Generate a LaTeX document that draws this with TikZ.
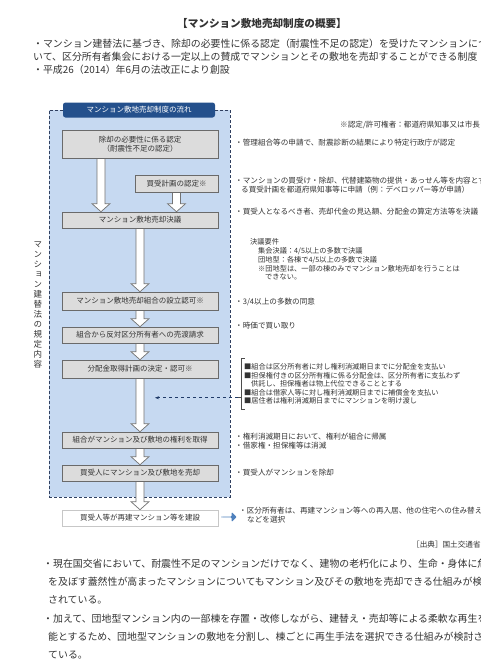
\documentclass[tikz,border=0pt]{standalone}
\usepackage{fontspec}
\setmainfont{Noto Sans CJK JP}
\newfontfamily\jpv[RawFeature={+vert}]{Noto Sans CJK JP}
\usetikzlibrary{calc,shapes.arrows,shadows,fit,arrows.meta}
\definecolor{txtc}{HTML}{333333}
\definecolor{frameblue}{HTML}{C6D9F1}
\definecolor{framedash}{HTML}{2F3F5F}
\definecolor{hdrblue}{HTML}{24508C}
\definecolor{boxfill}{HTML}{DCDCDC}
\definecolor{boxborder}{HTML}{6A6A6A}
\definecolor{arrowblue}{HTML}{4F81BD}
\definecolor{dashnavy}{HTML}{1F3A68}
\newcommand{\flowarrow}[2]{%
  \draw[flowarr] let \p1=(#1), \p2=(#2) in
    (\x1-4pt,\y1) -- (\x1+4pt,\y1) -- (\x1+4pt,\y2+8pt) -- (\x1+9pt,\y2+8pt)
    -- (\x1,\y2) -- (\x1-9pt,\y2+8pt) -- (\x1-4pt,\y2+8pt) -- cycle;}
\tikzset{
  titletxt/.style={inner sep=0pt, text=txtc, font=\bfseries\fontsize{10.6}{12}\selectfont},
  bodytxt/.style={anchor=west, inner sep=0pt, text=txtc, font=\fontsize{9.9}{11}\selectfont},
  rtxt/.style={anchor=west, inner sep=0pt, text=txtc, font=\fontsize{7.6}{8.5}\selectfont},
  stxt/.style={anchor=west, inner sep=0pt, text=txtc, font=\fontsize{7.2}{8}\selectfont},
  frame/.style={draw=framedash, dash pattern=on 3pt off 2pt, line width=0.8pt, fill=frameblue,
    minimum width=181pt, minimum height=387pt, inner sep=0pt},
  hdr/.style={fill=hdrblue, rounded corners=2.5pt, text=white, minimum width=152pt, minimum height=15pt,
    inner sep=0pt, font=\fontsize{7.5}{9}\selectfont},
  flowbox/.style={draw=boxborder, fill=boxfill, line width=0.6pt, inner sep=0pt, minimum width=156pt,
    minimum height=17pt, text=txtc, align=center, font=\fontsize{7.5}{9}\selectfont,
    drop shadow={shadow xshift=1pt, shadow yshift=-1pt, opacity=0.35}},
  endbox/.style={flowbox, draw=black!22, fill=white},
  flowarr/.style={draw=black!55, fill=white, line width=0.7pt},
  vtext/.style={inner sep=0pt, text=txtc, align=center, font=\jpv\fontsize{8.5}{10}\selectfont},
  bracketline/.style={draw=black!70, line width=0.6pt},
  dasharrow/.style={draw=dashnavy, dashed, line width=0.6pt, -{Stealth[length=4pt]}},
  bluearrow/.style={single arrow, fill=arrowblue, draw=none, minimum height=15pt, minimum width=10pt,
    single arrow head extend=2pt, inner sep=0pt, rounded corners=1pt}
}
\begin{document}
\begin{tikzpicture}[x=1pt,y=-1pt]
\useasboundingbox (0,0) rectangle (481,662);
\clip (0,0) rectangle (481,662);
\fill[white] (0,0) rectangle (481,662);

% title and intro
\node[titletxt] (title) at (262,23) {【マンション敷地売却制度の概要】};
\node[bodytxt] (p1) at (33,44) {・マンション建替法に基づき、除却の必要性に係る認定（耐震性不足の認定）を受けたマンションにつ};
\node[bodytxt] (p2) at (33,57) {いて、区分所有者集会における一定以上の賛成でマンションとその敷地を売却することができる制度};
\node[bodytxt] (p3) at (33,70) {・平成26（2014）年6月の法改正により創設};

% frame
\node[frame] (frame) at (139.5,303.5) {};
\node[hdr] (hdr) at (139,110) {マンション敷地売却制度の流れ};
\node[vtext] (vt) at (38,305) {マ\\ン\\シ\\ョ\\ン\\建\\替\\法\\の\\規\\定\\内\\容};

% boxes
\node[flowbox, minimum height=28pt] (B1) at (140,144) {除却の必要性に係る認定\\（耐震性不足の認定）};
\node[flowbox, minimum width=83pt] (B2) at (176.5,183.5) {買受計画の認定※};
\node[flowbox, minimum height=16pt] (B3) at (140,220) {マンション敷地売却決議};
\node[flowbox, minimum height=18pt] (B4) at (140,301) {マンション敷地売却組合の設立認可※};
\node[flowbox, minimum height=16pt] (B5) at (140,335) {組合から反対区分所有者への売渡請求};
\node[flowbox, minimum height=18pt] (B6) at (140,369) {分配金取得計画の決定・認可※};
\node[flowbox, minimum height=16pt] (B7) at (140,440) {組合がマンション及び敷地の権利を取得};
\node[flowbox, minimum height=16pt] (B8) at (140,473) {買受人にマンション及び敷地を売却};
\node[endbox, minimum height=16pt] (B9) at (140,518) {買受人等が再建マンション等を建設};

% arrows
\coordinate (a1s) at ($(B1.south)+(-39,0)$);
\coordinate (a1e) at (a1s |- B3.north);
\flowarrow{a1s}{a1e}
\coordinate (a2e) at (B2.south |- B3.north);
\flowarrow{B2.south}{a2e}
\flowarrow{B3.south}{B4.north}
\flowarrow{B4.south}{B5.north}
\flowarrow{B5.south}{B6.north}
\flowarrow{B6.south}{B7.north}
\flowarrow{B7.south}{B8.north}
\flowarrow{B8.south}{B9.north}

% redraw boxes on top of arrow ends
\node[flowbox, minimum height=28pt] at (B1) {除却の必要性に係る認定\\（耐震性不足の認定）};
\node[flowbox, minimum width=83pt] at (B2) {買受計画の認定※};
\node[flowbox, minimum height=16pt] at (B3) {マンション敷地売却決議};
\node[flowbox, minimum height=18pt] at (B4) {マンション敷地売却組合の設立認可※};
\node[flowbox, minimum height=16pt] at (B5) {組合から反対区分所有者への売渡請求};
\node[flowbox, minimum height=18pt] at (B6) {分配金取得計画の決定・認可※};
\node[flowbox, minimum height=16pt] at (B7) {組合がマンション及び敷地の権利を取得};
\node[flowbox, minimum height=16pt] at (B8) {買受人にマンション及び敷地を売却};
\node[endbox, minimum height=16pt] at (B9) {買受人等が再建マンション等を建設};

% right notes
\node[rtxt] (n0) at (340,125) {※認定/許可権者：都道府県知事又は市長};
\node[rtxt] (n1) at (235,143) {・管理組合等の申請で、耐震診断の結果により特定行政庁が認定};
\node[rtxt] (n2) at (235,181) {・マンションの買受け・除却、代替建築物の提供・あっせん等を内容とす};
\node[rtxt] (n2b) at (241,190) {る買受計画を都道府県知事等に申請（例：デベロッパー等が申請）};
\node[rtxt] (n3) at (235,212) {・買受人となるべき者、売却代金の見込額、分配金の算定方法等を決議};
\node[stxt] (n4) at (250,242) {決議要件};
\node[stxt] (n5) at (258,251) {集会決議：4/5以上の多数で決議};
\node[stxt] (n6) at (258,260) {団地型：各棟で4/5以上の多数で決議};
\node[stxt] (n7) at (258,269) {※団地型は、一部の棟のみでマンション敷地売却を行うことは};
\node[stxt] (n8) at (265,277) {できない。};
\node[rtxt] (n9) at (235,302) {・3/4以上の多数の同意};
\node[rtxt] (n10) at (235,326) {・時価で買い取り};

% bracket block
\node[stxt] (k1) at (244,367) {■組合は区分所有者に対し権利消滅期日までに分配金を支払い};
\node[stxt] (k2) at (244,375.5) {■担保権付きの区分所有権に係る分配金は、区分所有者に支払わず};
\node[stxt] (k3) at (251,384) {供託し、担保権者は物上代位できることとする};
\node[stxt] (k4) at (244,392.5) {■組合は借家人等に対し権利消滅期日までに補償金を支払い};
\node[stxt] (k5) at (244,401) {■居住者は権利消滅期日までにマンションを明け渡し};
\node[fit=(k1)(k5), inner xsep=3pt, inner ysep=5pt] (brk) {};
\draw[bracketline] ($(brk.north west)+(4,0)$) -- (brk.north west) -- (brk.south west) -- ($(brk.south west)+(4,0)$);
\coordinate (tk) at ($(brk.south west)+(0,-12)$);
\coordinate (tkend) at (155,0 |- tk);
\draw[bracketline] (tk) -- ++(-3,0) coordinate (tk2);
\draw[dasharrow] (tk2) -- (tkend);

\node[rtxt] (n11) at (235,437) {・権利消滅期日において、権利が組合に帰属};
\node[rtxt] (n12) at (235,446) {・借家権・担保権等は消滅};
\node[rtxt] (n13) at (235,473) {・買受人がマンションを除却};

\node[bluearrow] (barrow) at (229,517) {};
\node[rtxt] (n14) at (239,511) {・区分所有者は、再建マンション等への再入居、他の住宅への住み替え};
\node[rtxt] (n15) at (247,520) {などを選択};
\node[rtxt] (src) at (412,545) {［出典］国土交通省};

% bottom paragraphs
\node[bodytxt] (q1) at (43,564) {・現在国交省において、耐震性不足のマンションだけでなく、建物の老朽化により、生命・身体に危};
\node[bodytxt] (q2) at (48,582) {を及ぼす蓋然性が高まったマンションについてもマンション及びその敷地を売却できる仕組みが検討};
\node[bodytxt] (q3) at (48,600) {されている。};
\node[bodytxt] (q4) at (43,619) {・加えて、団地型マンション内の一部棟を存置・改修しながら、建替え・売却等による柔軟な再生を可};
\node[bodytxt] (q5) at (48,637) {能とするため、団地型マンションの敷地を分割し、棟ごとに再生手法を選択できる仕組みが検討され};
\node[bodytxt] (q6) at (48,655) {ている。};
\end{tikzpicture}
\end{document}
